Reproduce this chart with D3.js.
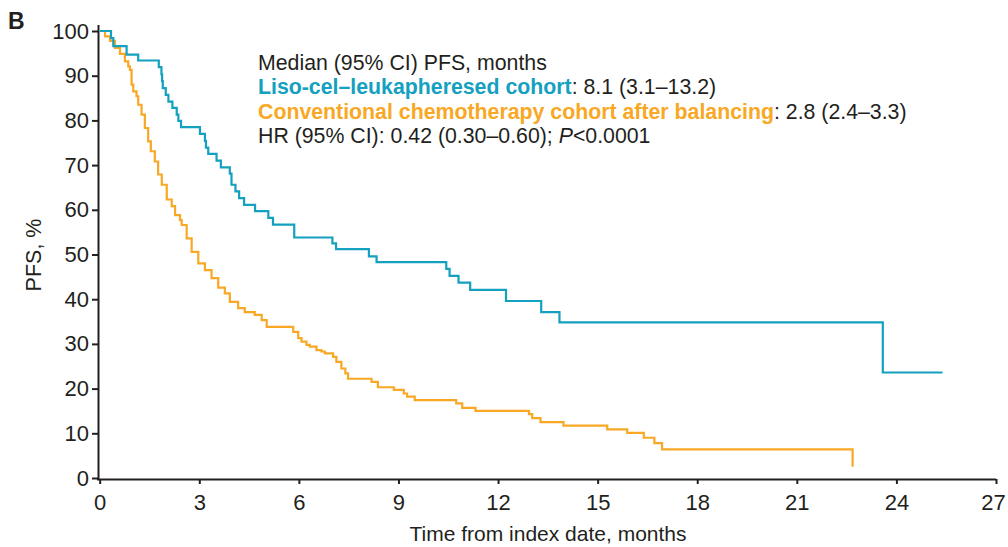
<!DOCTYPE html>
<html>
<head>
<meta charset="utf-8">
<script src="https://cdn.jsdelivr.net/npm/d3@7.9.0/dist/d3.min.js"></script>
<style>
  body { margin: 0; background: #fff; }
  svg text { font-family: "Liberation Sans", Arial, sans-serif; fill: #231f20; }
</style>
</head>
<body>
<svg id="chart" width="1008" height="547"></svg>
<script>
// Kaplan-Meier steps: time (months) and PFS (%) after each step
const lisoTime = [0, 0.34, 0.41, 0.81, 1.16, 1.78, 1.86, 1.88, 1.90, 1.99, 2.07, 2.19, 2.32, 2.37, 2.45,
  3.02, 3.17, 3.20, 3.27, 3.52, 3.65, 3.92, 3.97, 4.09, 4.20, 4.35, 4.68, 5.08, 5.22, 5.86,
  7.01, 7.12, 8.11, 8.34, 10.44, 10.54, 10.81, 11.16, 12.24, 13.30, 13.85, 23.59, 25.39];
const lisoPfs = [100, 98.4, 96.6, 94.7, 93.4, 91.9, 90.3, 88.8, 87.2, 85.7, 84.2, 82.8, 81.3, 79.9, 78.5,
  77.0, 75.4, 73.9, 72.5, 71.0, 69.5, 68.1, 65.6, 64.1, 62.6, 61.1, 59.7, 58.2, 56.7, 53.8,
  52.5, 51.2, 49.6, 48.3, 46.8, 45.2, 43.7, 42.1, 39.6, 37.1, 34.8, 23.6, 23.6];

const chemoTime = [0, 0.16, 0.31, 0.46, 0.61, 0.76, 0.86, 0.91, 0.96, 1.01, 1.11, 1.16, 1.26, 1.36, 1.46,
  1.54, 1.66, 1.76, 1.87, 2.02, 2.17, 2.27, 2.42, 2.47, 2.62, 2.77, 2.97, 3.17, 3.37, 3.57,
  3.77, 3.92, 4.17, 4.37, 4.67, 4.88, 5.03, 5.83, 5.98, 6.08, 6.23, 6.33, 6.53, 6.68, 6.78,
  7.03, 7.13, 7.28, 7.40, 7.48, 8.19, 8.38, 8.86, 9.16, 9.26, 9.49, 10.74, 10.92, 11.32,
  12.93, 13.03, 13.28, 13.97, 15.29, 15.89, 16.39, 16.71, 16.94, 22.68];
const chemoPfs = [100, 98.8, 97.8, 96.2, 94.9, 93.2, 92.1, 91.3, 88.0, 86.5, 85.4, 83.5, 81.3, 78.3, 75.3,
  73.1, 70.8, 67.9, 65.6, 62.3, 60.8, 58.8, 57.7, 56.6, 53.6, 50.6, 48.0, 46.5, 44.7, 42.6,
  41.3, 39.4, 38.0, 37.1, 36.5, 35.3, 33.8, 32.7, 31.3, 30.5, 29.8, 29.4, 28.6, 28.3, 27.9,
  27.1, 26.0, 24.5, 23.4, 22.2, 21.5, 20.3, 19.7, 18.9, 18.2, 17.4, 16.7, 15.7, 15.0,
  14.3, 13.4, 12.5, 11.7, 10.9, 10.1, 9.0, 7.8, 6.4, 2.5];

const xTicks = [0, 3, 6, 9, 12, 15, 18, 21, 24, 27];
const yTicks = [0, 10, 20, 30, 40, 50, 60, 70, 80, 90, 100];

const blue = '#14a0bf';
const orange = '#f8a824';

const svg = d3.select('#chart');
const x = d3.scaleLinear().domain([0, 27]).range([99.7, 996]);
const y = d3.scaleLinear().domain([0, 100]).range([478, 31]);

// axes
const xAxis = svg.append('g')
  .attr('transform', 'translate(0,479)')
  .call(d3.axisBottom(x).tickValues(xTicks).tickSize(5).tickPadding(10).tickSizeOuter(0));
xAxis.select('.domain').attr('d', 'M97,0.5H996');
// keep the last label inside the frame
xAxis.selectAll('.tick text').filter((d) => d === 27).attr('dx', '-3');

const yAxis = svg.append('g')
  .attr('transform', 'translate(98,0)')
  .call(d3.axisLeft(y).tickValues(yTicks).tickSize(6).tickPadding(3).tickSizeOuter(0));
yAxis.select('.domain').attr('d', 'M0.5,25V479');

svg.selectAll('.tick text').style('font-size', '22px').attr('fill', '#231f20')
  .style('font-family', '"Liberation Sans", Arial, sans-serif');
svg.selectAll('.domain, .tick line').attr('stroke', '#231f20').attr('stroke-width', 2);

// curves
const line = d3.line()
  .x((d) => x(d[0]))
  .y((d) => y(d[1]))
  .curve(d3.curveStepAfter);

svg.append('path')
  .datum(d3.zip(chemoTime, chemoPfs))
  .attr('d', line)
  .attr('fill', 'none')
  .attr('stroke', orange)
  .attr('stroke-width', 2.2);

svg.append('path')
  .datum(d3.zip(lisoTime, lisoPfs))
  .attr('d', line)
  .attr('fill', 'none')
  .attr('stroke', blue)
  .attr('stroke-width', 2.2);

// titles
svg.append('text')
  .attr('x', 548).attr('y', 541)
  .attr('text-anchor', 'middle')
  .style('font-size', '21px')
  .text('Time from index date, months');

svg.append('text')
  .attr('transform', 'translate(41,255) rotate(-90)')
  .attr('text-anchor', 'middle')
  .style('font-size', '21.5px')
  .text('PFS, %');

svg.append('text')
  .attr('x', 8).attr('y', 29)
  .style('font-size', '23px')
  .style('font-weight', 'bold')
  .text('B');

// annotation block
const note = svg.append('text').style('font-size', '21.3px');
const lx = 258, ly = 69.5, lh = 24.6;

note.append('tspan').attr('x', lx).attr('y', ly).text('Median (95% CI) PFS, months');

const r2 = note.append('tspan').attr('x', lx).attr('y', ly + lh);
r2.append('tspan').attr('fill', blue).style('font-weight', 'bold').text('Liso-cel\u2013leukapheresed cohort');
r2.append('tspan').text(': 8.1 (3.1\u201313.2)');

const r3 = note.append('tspan').attr('x', lx).attr('y', ly + 2 * lh);
r3.append('tspan').attr('fill', orange).style('font-weight', 'bold').text('Conventional chemotherapy cohort after balancing');
r3.append('tspan').text(': 2.8 (2.4\u20133.3)');

const r4 = note.append('tspan').attr('x', lx).attr('y', ly + 3 * lh);
r4.append('tspan').text('HR (95% CI): 0.42 (0.30\u20130.60); ');
r4.append('tspan').style('font-style', 'italic').text('P');
r4.append('tspan').text('<0.0001');
</script>
</body>
</html>
